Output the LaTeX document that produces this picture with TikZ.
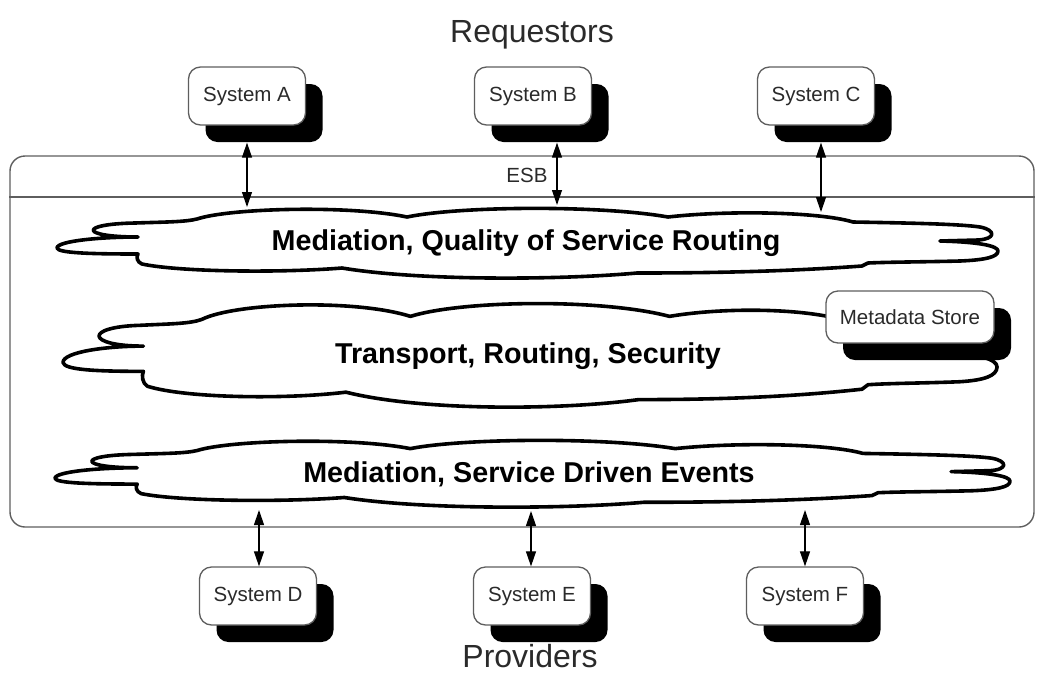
\documentclass[tikz,border=0pt]{standalone}
\usepackage{fontspec}
\setmainfont{Liberation Sans}
\usetikzlibrary{arrows.meta,shadows}

\definecolor{framegray}{HTML}{5E5E5E}
\definecolor{inkgray}{HTML}{2A2A2A}

% Outline of one "cloud" layer of the bus; drawn in its own frame
% (57..998 wide, 208..280 high) and stretched by a scope where needed.
\newcommand{\drawbuscloud}{%
  \draw[cloudline]
    (57,248) .. controls (57,241) and (100,237) .. (138,237)
    .. controls (80,237) and (78,224) .. (135,223)
    .. controls (165,222) and (185,222) .. (197,219)
    .. controls (230,208) and (350,205) .. (407,217)
    .. controls (460,206) and (600,205) .. (668,217)
    .. controls (730,210) and (820,212) .. (853,222)
    .. controls (910,223) and (960,224) .. (980,227)
    .. controls (996,230) and (996,239) .. (978,240)
    -- (940,241)
    .. controls (980,242) and (998,246) .. (998,251)
    .. controls (998,257) and (985,260) .. (960,261)
    .. controls (920,262) and (890,262) .. (868,263)
    -- (862,266)
    .. controls (780,272) and (700,273) .. (637,273)
    .. controls (560,280) and (420,281) .. (342,268)
    .. controls (280,273) and (180,272) .. (142,264)
    .. controls (137,262) and (136,257) .. (138,254)
    .. controls (90,254) and (58,253) .. (57,248) -- cycle;}

\tikzset{
  sysbox/.style={draw=framegray, line width=1.3pt, fill=white,
    rounded corners=12pt, minimum width=117pt, minimum height=58pt,
    inner sep=0pt, text=inkgray, font=\fontsize{20.5}{24}\selectfont,
    drop shadow={shadow xshift=17pt, shadow yshift=-17pt,
      fill=black, opacity=1}},
  esbframe/.style={draw=framegray, line width=1.4pt, rounded corners=15pt,
    minimum width=1024pt, minimum height=371pt, inner sep=0pt},
  cloudline/.style={draw=black, line width=3.6pt, fill=white,
    line join=round},
  layertext/.style={anchor=base, font=\bfseries\fontsize{28.7}{34}\selectfont},
  sidetext/.style={anchor=base, text=inkgray, font=\fontsize{32}{38}\selectfont},
  link/.style={line width=1.2pt,
    {Triangle[length=15pt,width=10pt]}-{Triangle[length=15pt,width=10pt]}}
}

\begin{document}
\begin{tikzpicture}[x=1pt,y=-1pt]
\useasboundingbox (0,0) rectangle (1037,673);

% headings
\node[sidetext] (requestors) at (532,42) {Requestors};
\node[sidetext] (providers) at (530,667) {Providers};

% the bus frame with its title strip
\node[esbframe] (esb) at (522,341.5) {};
\coordinate (strip) at (0,197);
\draw[draw=framegray, line width=1.4pt] (esb.west |- strip) -- (esb.east |- strip);
\node[text=inkgray, font=\fontsize{20.5}{24}\selectfont] (esblabel) at (527,175) {ESB};

% the three layers
\drawbuscloud
\begin{scope}[shift={(63,303)}, xscale=0.9926, yscale=1.486, shift={(-57,-208)}]
  \drawbuscloud
\end{scope}
\begin{scope}[shift={(55,440)}, xscale=1.0149, yscale=0.958, shift={(-57,-208)}]
  \drawbuscloud
\end{scope}

\node[layertext] (layer1) at (526,250) {Mediation, Quality of Service Routing};
\node[layertext] (layer2) at (528,363) {Transport, Routing, Security};
\node[layertext] (layer3) at (529,482) {Mediation, Service Driven Events};

\node[sysbox, minimum width=168pt, minimum height=52pt] (meta) at (910,317) {Metadata Store};

% requestor systems
\node[sysbox] (sa) at (247,96) {System A};
\node[sysbox] (sb) at (533,96) {System B};
\node[sysbox] (sc) at (816,96) {System C};

% provider systems
\node[sysbox] (sd) at (258,596) {System D};
\node[sysbox] (se) at (532,596) {System E};
\node[sysbox] (sf) at (805,596) {System F};

% attachment points on the layers
\coordinate (ta) at (247,207);
\coordinate (tb) at (557,205);
\coordinate (tc) at (821,212);
\coordinate (bd) at (259,510);
\coordinate (be) at (531,511);
\coordinate (bf) at (805,510);

% requestor links leave from the lower edge of each box's shadow
\coordinate (safoot) at ([yshift=-17pt]sa.south);
\coordinate (sbfoot) at ([yshift=-17pt]sb.south);
\coordinate (scfoot) at ([yshift=-17pt]sc.south);
\draw[link] (ta |- safoot) -- (ta);
\draw[link] (tb |- sbfoot) -- (tb);
\draw[link] (tc |- scfoot) -- (tc);
\draw[link] (bd) -- (bd |- sd.north);
\draw[link] (be) -- (be |- se.north);
\draw[link] (bf) -- (bf |- sf.north);
\end{tikzpicture}
\end{document}
